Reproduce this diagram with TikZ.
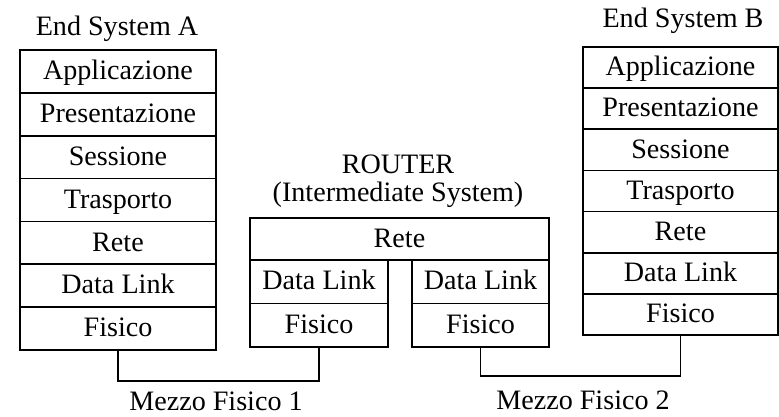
\documentclass[tikz,border=0pt]{standalone}
\usepackage{fontspec}
\setmainfont{Liberation Serif}
\usetikzlibrary{positioning}

\tikzset{
  layer/.style={draw, line width=1.5pt, outer sep=0pt, inner sep=0pt, text height=16pt, text depth=2pt, font=\fontsize{24}{28}\selectfont},
  layerA/.style={layer, minimum width=5.88cm, minimum height=1.286cm},
  layerB/.style={layer, minimum width=5.85cm, minimum height=1.234cm},
  sublayer/.style={layer, minimum height=1.305cm},
  caption/.style={font=\fontsize{24}{28}\selectfont, inner sep=0pt, anchor=base},
  medium/.style={line width=1.1pt}
}

\begin{document}
\begin{tikzpicture}[x=0.03cm,y=-0.03cm]
  \useasboundingbox (0,0) rectangle (779,416);
  \node[caption] (titleA) at (117,35) {End System A};
  \foreach \t [count=\i] in {Applicazione,Presentazione,Sessione,Trasporto,Rete,Data Link,Fisico}
    \node[layerA] (A\i) at (118,{50+42.86*(\i-0.5)}) {\t};
  \node[caption] (titleB) at (683,27) {End System B};
  \foreach \t [count=\i] in {Applicazione,Presentazione,Sessione,Trasporto,Rete,Data Link,Fisico}
    \node[layerB] (B\i) at (680.5,{47+41.14*(\i-0.5)}) {\t};
  \node[caption] (router) at (398,173) {ROUTER};
  \node[caption] (inter) at (398,201) {(Intermediate System)};
  \node[layer, minimum width=8.97cm, minimum height=1.26cm] (R) at (399.5,239) {Rete};
  \node[sublayer, minimum width=4.14cm, below right=0pt of R.south west] (RD1) {Data Link};
  \node[sublayer, minimum width=4.14cm, below=0pt of RD1] (RF1) {Fisico};
  \node[sublayer, minimum width=4.11cm, below left=0pt of R.south east] (RD2) {Data Link};
  \node[sublayer, minimum width=4.11cm, below=0pt of RD2] (RF2) {Fisico};
  \coordinate (m1) at (216,381);
  \coordinate (m2) at (583,376);
  \draw[medium] (A7.south) |- (m1) -| (RF1.south);
  \draw[medium] (RF2.south) |- (m2) -| (B7.south);
  \node[caption] (mf1) at (216,410) {Mezzo Fisico 1};
  \node[caption] (mf2) at (583,409) {Mezzo Fisico 2};
\end{tikzpicture}
\end{document}
